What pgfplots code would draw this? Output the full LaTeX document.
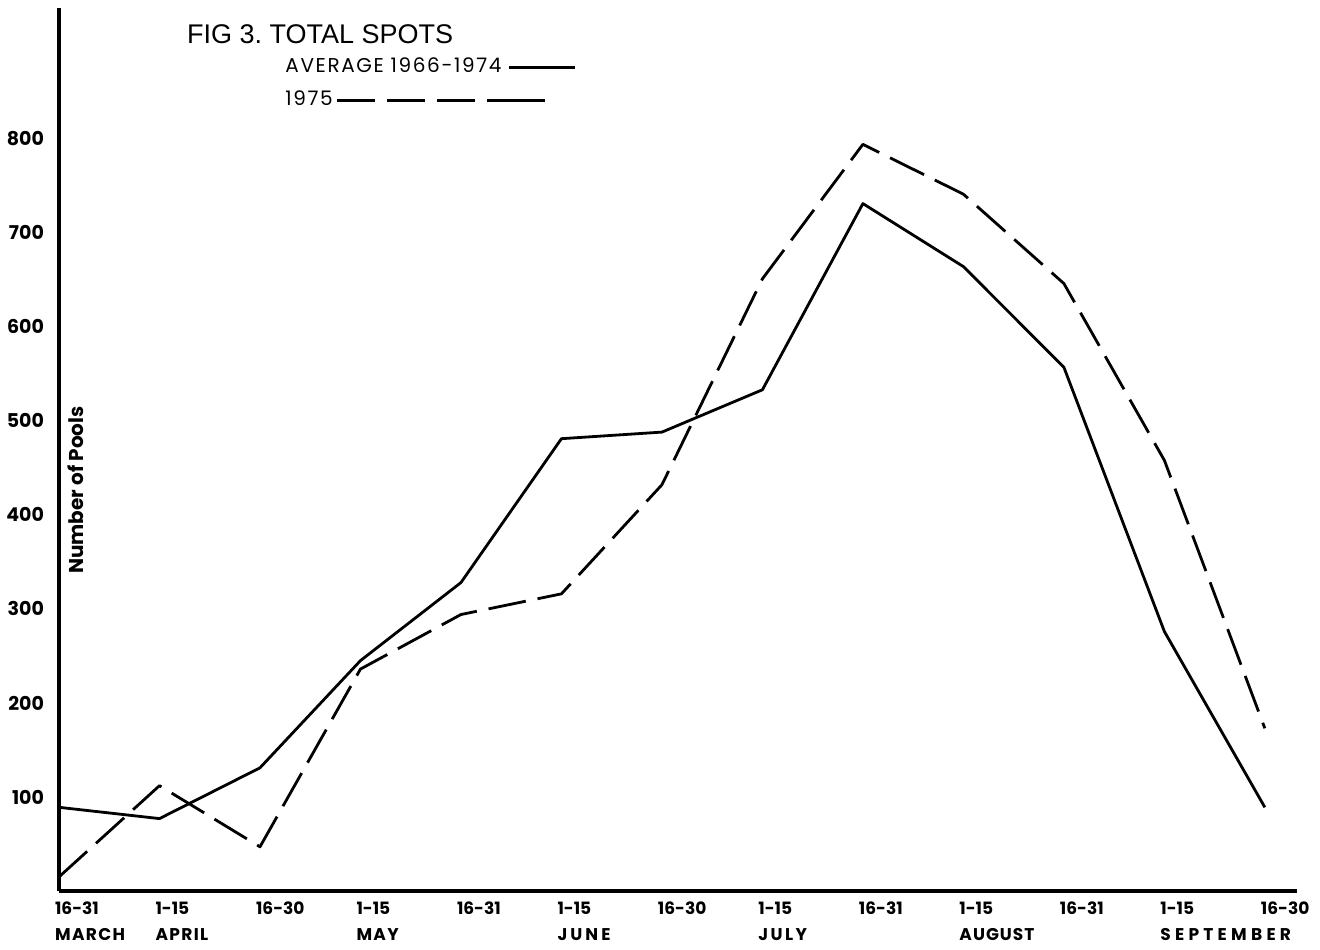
\documentclass[border=0pt]{standalone}
\usepackage{fontspec}
\setmainfont{Poppins}
\newfontfamily\titlefont{Liberation Sans}
\usepackage{pgfplots}
\pgfplotsset{compat=1.18}
\newcommand{\mon}[2][8]{{\addfontfeature{LetterSpace=#1}#2}}
\pgfplotsset{
  legsolid/.style={legend image code/.code={\draw[##1] (0pt,-1pt) -- (33pt,-1pt);}},
  legdash/.style={legend image code/.code={\path (0pt,-1pt) -- (18pt,-1pt); \draw[##1, overlay] (-86pt,-1pt) -- (18pt,-1pt);}},
}
\begin{document}
\begin{tikzpicture}
\path[use as bounding box] (-29.5pt,-29pt) rectangle (630.5pt,445.5pt);
\begin{axis}[
  at={(0pt,0pt)}, anchor=south west,
  scale only axis,
  width=619pt, height=441.5pt,
  xmin=0, xmax=12.32,
  ymin=0, ymax=939,
  axis lines=left,
  axis line style={-, line width=1.8pt},
  major tick length=0pt,
  ytick={100,200,300,400,500,600,700,800},
  /pgf/number format/assume math mode=true,
  /pgf/number format/1000 sep={},
  yticklabel style={font=\bfseries\fontsize{9.5}{11}\selectfont, xshift=-4pt},
  xtick={0,1,2,3,4,5,6,7,8,9,10,11,12},
  xticklabels={{16-31\\\mon{MARCH}},{1-15\\\mon{APRIL}},{16-30},{1-15\\\mon{MAY}},{16-31},{1-15\\\mon[18]{JUNE}},{16-30},{1-15\\\mon[14]{JULY}},{16-31},{1-15\\\mon[6]{AUGUST}},{16-31},{1-15\\\mon[25]{SEPTEMBER}},{16-30}},
  xticklabel style={font=\bfseries\fontsize{8.5}{13}\selectfont, align=left, anchor=north west, xshift=-5.5pt, yshift=-2pt},
  ylabel={Number of Pools},
  ylabel style={at={(axis description cs:0.0137,0.454)}, anchor=center, font=\bfseries\fontsize{10}{12}\selectfont},
  title={FIG 3.\ TOTAL SPOTS},
  title style={at={(axis description cs:0.0977,0.969)}, anchor=west, yshift=-5.5pt, font=\titlefont\fontsize{13.5}{15}\selectfont},
  legend plot pos=right,
  legend cell align=left,
  legend style={draw=none, fill=none, at={(axis description cs:0.1826,0.943)}, anchor=north west,
    inner sep=0pt, row sep=9.5pt, column sep=3pt,
    nodes={inner sep=0pt, text height=7pt, text depth=0pt},
    font=\fontsize{10}{12}\selectfont\addfontfeature{LetterSpace=8}},
]
\addplot[black, line width=1.4pt, line join=round, legsolid]
  coordinates {(0,89) (1,77) (2,131) (3,245) (4,328) (5,481) (6,488) (7,533) (8,731) (9,664) (10,557) (11,276) (12,89)};
\addlegendentry{AVERAGE 1966-1974}
\addplot[black, line width=1.4pt, line join=round, dash pattern=on 19pt off 6pt, legdash]
  coordinates {(0,15) (1,112) (2,47) (3,236) (4,294) (5,316) (6,432) (7,651) (8,794) (9,741) (10,646) (11,458) (12,173)};
\addlegendentry{1975}
\end{axis}
\end{tikzpicture}
\end{document}
